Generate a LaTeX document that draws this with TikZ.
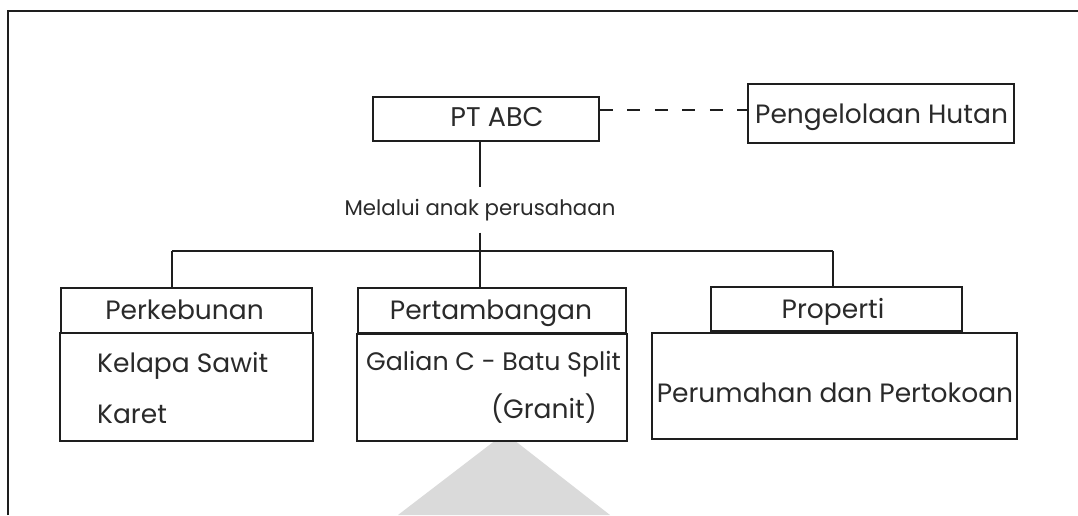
\documentclass[tikz,border=0pt]{standalone}
\usepackage{fontspec}
\setmainfont{Poppins}
\usetikzlibrary{calc}
\definecolor{ink}{HTML}{1E1E1E}
\definecolor{txt}{HTML}{2A2A2A}
\definecolor{wm}{HTML}{DADADA}
\tikzset{
  box/.style={draw=ink, line width=1.5pt, fill=white, inner sep=0pt, rectangle},
  conn/.style={draw=ink, line width=1.5pt},
  dashconn/.style={draw=ink, line width=2.8pt, dash pattern=on 13pt off 14.5pt},
  lbl/.style={inner sep=0pt, text=txt, font=\fontsize{26.5}{30}\selectfont},
  lblnarrow/.style={inner sep=0pt, text=txt, font=\fontsize{25.3}{30}\selectfont},
  big/.style={inner sep=0pt, text=txt, font=\fontsize{27}{30}\selectfont},
  small/.style={inner sep=0pt, text=txt, font=\fontsize{21.3}{24}\selectfont},
}
\begin{document}
\begin{tikzpicture}[x=1pt,y=-1pt]
\useasboundingbox (0,0) rectangle (1078,515);
\fill[white] (0,0) rectangle (1078,515);
% frame
\draw[conn] (8,515) -- (8,11) -- (1078,11);
% watermark
\fill[wm] (398,515) -- (505,433) -- (610,515) -- cycle;
% top boxes
\node[box, minimum width=226pt, minimum height=44pt] (pt) at (486,119) {};
\node[box, minimum width=266pt, minimum height=59pt] (hutan) at (881,113.5) {};
\node[big, anchor=base] (ptt) at (497,126) {PT ABC};
\node[lbl, anchor=base west] (hutant) at (755,123) {Pengelolaan Hutan};
% dashed link
\coordinate (dA) at ($(pt.north east)!0.3!(pt.south east)$);
\draw[dashconn] (dA) -- (dA -| hutan.west);
% label on stem
\node[small, minimum height=45pt] (mel) at (480,210) {Melalui anak perusahaan};
\draw[conn] (pt.south -| mel.north) -- (mel.north);
\coordinate (j) at (480,251);
\coordinate (jl) at (172,251);
\coordinate (jr) at (833,251);
\draw[conn] (mel.south) -- (j);
\draw[conn] (jl) -- (jr);
% headers
\node[box, minimum width=251pt, minimum height=45pt] (perkh) at (186.5,310.5) {};
\node[box, minimum width=268pt, minimum height=45pt] (perth) at (492,310.5) {};
\node[box, minimum width=251pt, minimum height=44pt] (proph) at (836.5,309) {};
\draw[conn] (jl) -- (jl |- perkh.north);
\draw[conn] (j) -- (j |- perth.north);
\draw[conn] (jr) -- (jr |- proph.north);
% bodies
\node[box, minimum width=253pt, minimum height=108pt] (perkb) at (186.5,387) {};
\node[box, minimum width=270pt, minimum height=107pt] (pertb) at (492,387.5) {};
\node[box, minimum width=365pt, minimum height=106pt] (propb) at (834.5,386) {};
% texts
\node[lbl, anchor=base] (perkt) at (184.5,319) {Perkebunan};
\node[lbl, anchor=base] (pertt) at (491,319) {Pertambangan};
\node[lbl, anchor=base] (propt) at (833,318) {Properti};
\node[lbl, anchor=base west] (k1) at (97,372) {Kelapa Sawit};
\node[lbl, anchor=base west] (k2) at (97,423) {Karet};
\node[lblnarrow, anchor=base west] (g1) at (366,370) {Galian C - Batu Split};
\node[lbl, anchor=base east] (g2) at (597,418) {(Granit)};
\node[lbl, anchor=base] (p1) at (835,402) {Perumahan dan Pertokoan};
\end{tikzpicture}
\end{document}
